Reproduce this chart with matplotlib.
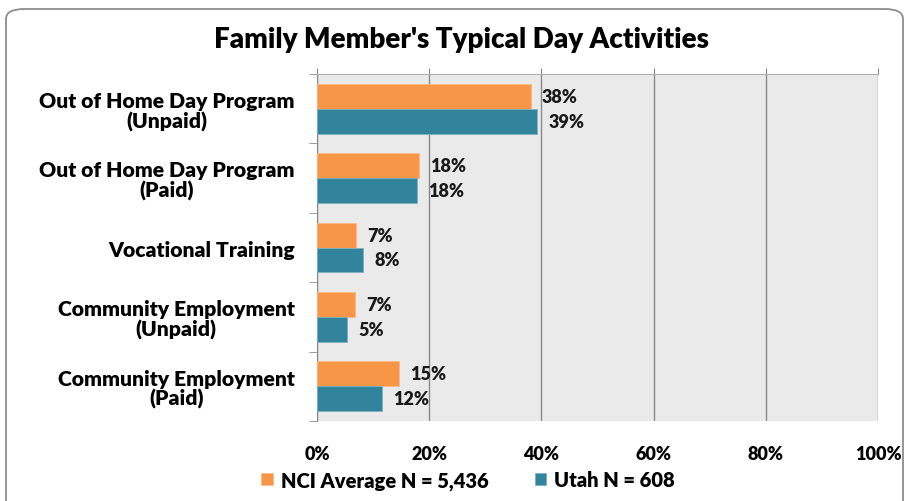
import matplotlib
matplotlib.use("Agg")
import matplotlib.pyplot as plt
from matplotlib.patches import FancyBboxPatch
import numpy as np

categories = ["Out of Home Day Program\n(Unpaid)", "Out of Home Day Program\n(Paid)",
              "Vocational Training", "Community Employment\n(Unpaid)",
              "Community Employment\n(Paid)"]
nci_values = [38, 18, 7, 7, 15]
utah_values = [39, 18, 8, 5, 12]
nci_bar = [38.1, 18.2, 7.0, 6.8, 14.6]
utah_bar = [39.2, 17.8, 8.2, 5.3, 11.6]
series_names = ["NCI Average N = 5,436", "Utah N = 608"]
xticks = [0, 20, 40, 60, 80, 100]
xtick_labels = ["0%", "20%", "40%", "60%", "80%", "100%"]
title = "Family Member's Typical Day Activities"

plt.rcParams['font.family'] = ['Lato', 'DejaVu Sans']
orange = "#F79646"
teal = "#31849B"

fig = plt.figure(figsize=(9.05, 5.02), dpi=100)
# rounded frame
frame = FancyBboxPatch((6/905, -0.05), 897/905, 1 - 10/502 + 0.05,
                       boxstyle="round,pad=0,rounding_size=0.02",
                       transform=fig.transFigure, facecolor="white",
                       edgecolor="#8c8c8c", linewidth=1.3, zorder=-10)
fig.patches.append(frame)

ax = fig.add_axes([317/905, 1 - 422/502, 561/905, 347/502])
ax.set_zorder(1)
ax.set_facecolor("#EAEAEA")
n = len(categories)
y = np.arange(n)
h = 0.36
ax.barh(y - h/2, nci_bar, height=h, color=orange, edgecolor="#fbb98a", linewidth=0.6, zorder=3, label=series_names[0])
ax.barh(y + h/2, utah_bar, height=h, color=teal, edgecolor="#7fb3c2", linewidth=0.6, zorder=3, label=series_names[1])

for i in range(n):
    ax.text(nci_bar[i] + 2.0, y[i] - h/2, f"{nci_values[i]}%", va="center", ha="left",
            fontsize=13, fontweight="heavy", color="#1a1a1a", zorder=4)
    ax.text(utah_bar[i] + 2.0, y[i] + h/2, f"{utah_values[i]}%", va="center", ha="left",
            fontsize=13, fontweight="heavy", color="#1a1a1a", zorder=4)

ax.set_xlim(0, 100)
ax.set_ylim(n - 0.5, -0.5)
ax.set_xticks(xticks)
ax.set_xticklabels(xtick_labels, fontsize=13, fontweight="heavy")
ax.tick_params(axis="x", which="both", length=4, pad=13, top=True, bottom=False,
               direction="out", color="#8a8a8a")
ax.tick_params(axis="x", labelbottom=True, labeltop=False)
ax.grid(axis="x", color="#8a8a8a", linewidth=1.0, zorder=1)

ax.set_yticks(y)
ax.set_yticklabels(categories, fontsize=15.2, fontweight="heavy", linespacing=1.05)
for t in ax.get_yticklabels():
    t.set_multialignment("center")
ax.tick_params(axis="y", which="major", length=0, pad=16)
ax.set_yticks(np.arange(n + 1) - 0.5, minor=True)
ax.tick_params(axis="y", which="minor", length=6, color="#8a8a8a", direction="out")

for s in ["right", "bottom"]:
    ax.spines[s].set_visible(False)
ax.spines["left"].set_color("#8a8a8a")
ax.spines["top"].set_color("#b0b0b0")

fig.text(462/905, 1 - 40/502, title, ha="center", va="center", fontsize=20, fontweight="heavy")

# legend
lg = fig.legend(handles=ax.get_legend_handles_labels()[0], labels=series_names,
                loc="center", bbox_to_anchor=(468/905, 1 - 481/502), ncol=2, frameon=False,
                prop={"size": 14.5, "weight": "heavy"}, handlelength=0.55, handleheight=0.55,
                handletextpad=0.4, columnspacing=2.3)

fig.savefig("out.png", dpi=100)
